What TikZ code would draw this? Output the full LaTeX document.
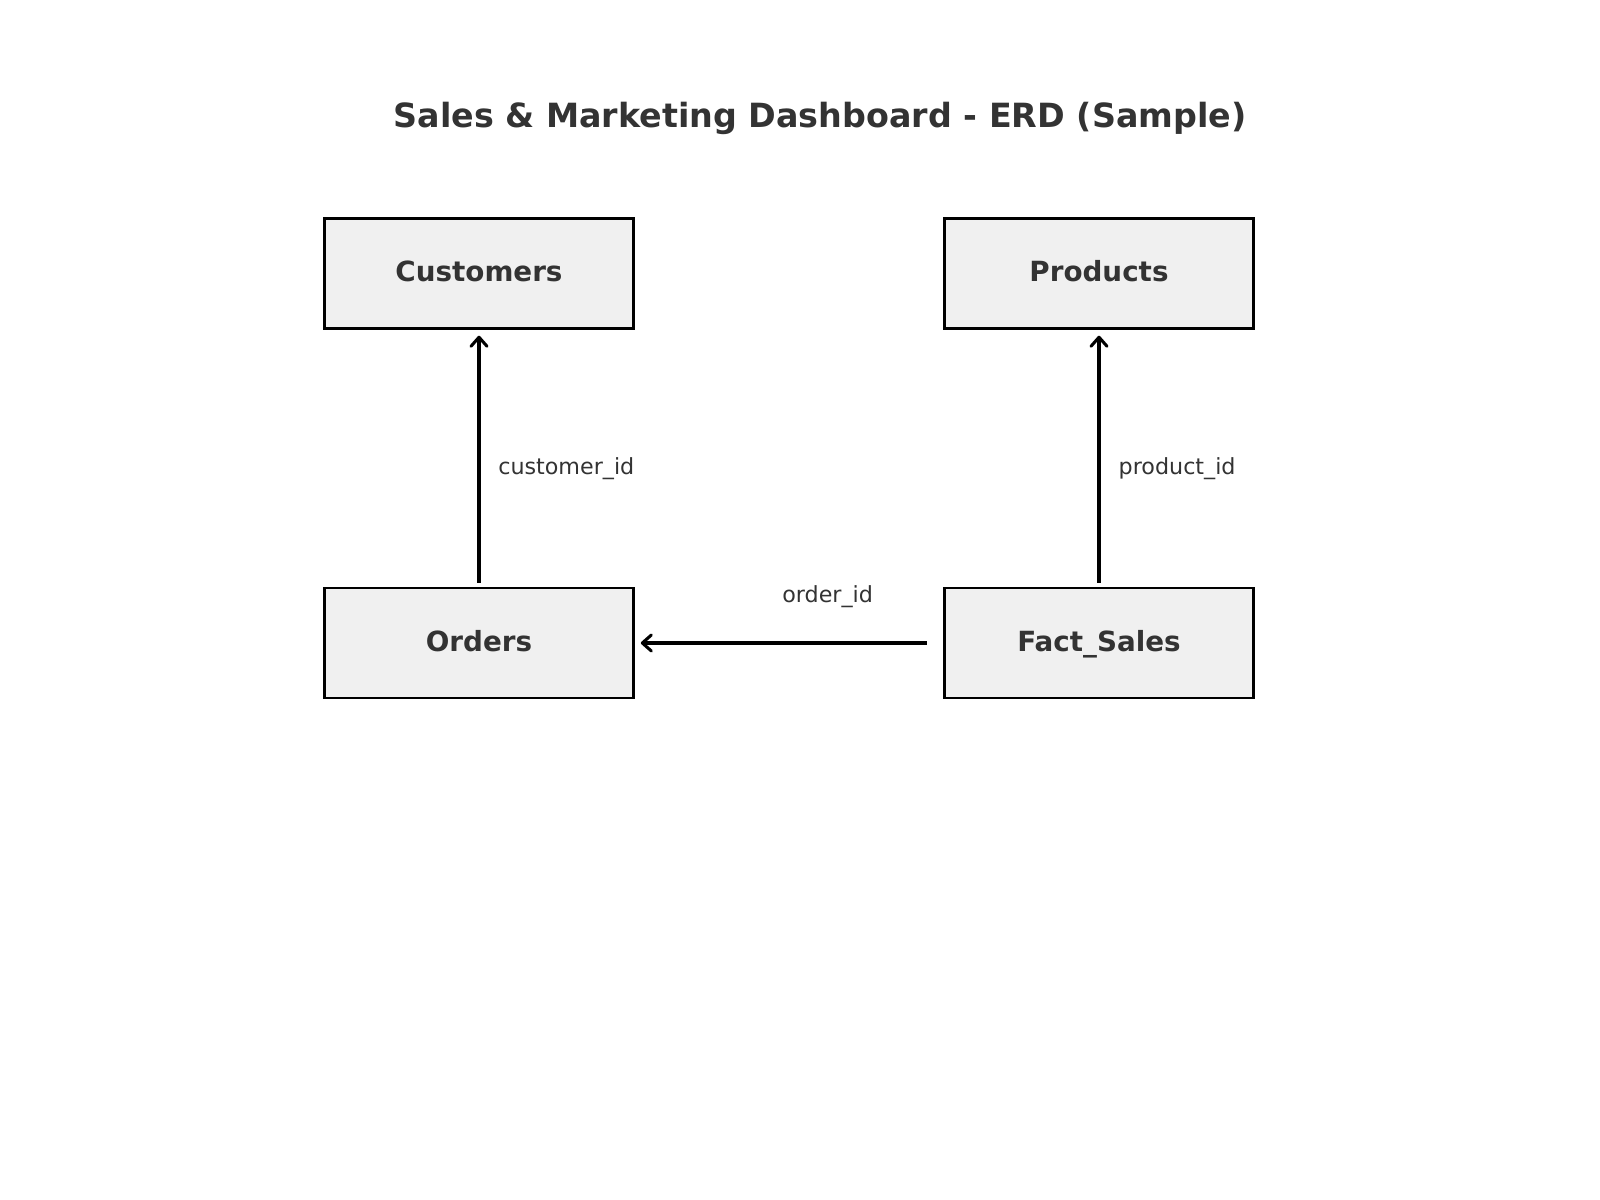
\documentclass[tikz,border=0pt]{standalone}
\usepackage{fontspec}
\setmainfont{DejaVu Sans}
\usetikzlibrary{arrows.meta}
\definecolor{txt}{HTML}{333333}
\definecolor{boxfill}{HTML}{F0F0F0}
\begin{document}
\begin{tikzpicture}[x=0.72pt,y=-0.72pt,
  entity/.style={draw=black,line width=2pt,fill=boxfill,minimum width=309*0.72pt,minimum height=110*0.72pt,inner sep=0pt,text height=16.6pt,text depth=4.7pt,font=\bfseries\fontsize{20}{24}\selectfont,text=txt},
  rel/.style={line width=2.2pt,-{Straight Barb[length=6.5pt,width=11.5pt,line width=2.2pt,round]}},
  lbl/.style={font=\fontsize{16}{19}\selectfont,text=txt,inner sep=0pt}]
\useasboundingbox (0,0) rectangle (1600,1200);
\node[font=\bfseries\fontsize{24}{29}\selectfont,text=txt] (title) at (820,118) {Sales \& Marketing Dashboard - ERD (Sample)};
\node[entity] (cust) at (479,273.5) {Customers};
\node[entity] (prod) at (1099,273.5) {Products};
\node[entity] (ord) at (479,643) {Orders};
\node[entity] (fact) at (1099,643) {Fact\_Sales};
\coordinate (a1s) at (479,582.6);
\coordinate (a1e) at (479,335.7);
\coordinate (a2s) at (1099,582.6);
\coordinate (a2e) at (1099,335.7);
\coordinate (a3s) at (926.5,643);
\coordinate (a3e) at (640.8,643);
\draw[rel] (a1s) -- (a1e);
\draw[rel] (a2s) -- (a2e);
\draw[rel] (a3s) -- (a3e);
\node[lbl,anchor=west] (l1) at (498,468.3) {customer\_id};
\node[lbl,anchor=west] (l2) at (1118.4,468.3) {product\_id};
\node[lbl] (l3) at (827.6,596.4) {order\_id};
\end{tikzpicture}
\end{document}
